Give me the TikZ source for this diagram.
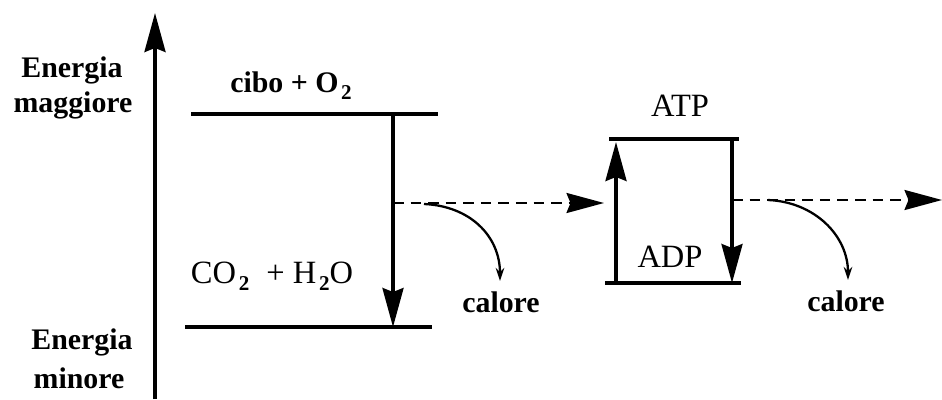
\documentclass[tikz,border=0pt]{standalone}
\usepackage{fontspec}
\setmainfont{Liberation Serif}
\usepackage{tikz}
\usetikzlibrary{arrows.meta}

\newcommand{\pedice}[1]{\kern1.5pt\raisebox{-0.5ex}{\fontsize{12}{12}\selectfont\bfseries #1}}

\begin{document}
\begin{tikzpicture}[x=0.02cm,y=-0.02cm,
  livello/.style={line width=2.2pt},
  freccia/.style={line width=1.9pt,-{Stealth[length=0.78cm,width=0.42cm,inset=0.08cm]}},
  tratteggio/.style={line width=1.4pt,dash pattern=on 6pt off 4pt,-{Stealth[length=0.75cm,width=0.4cm,inset=0.08cm]}},
  calore/.style={line width=1.3pt,-{Stealth[length=0.26cm,width=0.17cm]}},
  scritta/.style={font=\fontsize{17}{19}\selectfont\bfseries},
  sigla/.style={font=\fontsize{18.5}{20}\selectfont}]
\useasboundingbox (0,0) rectangle (942,399);
% asse dell'energia
\coordinate (asse0) at (155,399);
\coordinate (asse1) at (155,13);
\draw[freccia] (asse0) -- (asse1);
\node[scritta] (emagg1) at (72,70) {Energia};
\node[scritta] (emagg2) at (73,105) {maggiore};
\node[scritta] (emin1) at (82,342) {Energia};
\node[scritta] (emin2) at (79,378) {minore};
% respirazione
\coordinate (alto0) at (191,114);
\coordinate (alto1) at (438,114);
\coordinate (basso0) at (185,327);
\coordinate (basso1) at (432,327);
\draw[livello] (alto0) -- (alto1);
\draw[livello] (basso0) -- (basso1);
\node[scritta] (cibo) at (291,86) {cibo + O\pedice{2}};
\node[sigla] (prodotti) at (272,276) {CO\pedice{2}\; + H\pedice{2}O};
\coordinate (cad0) at (393,114);
\coordinate (cad1) at (393,327);
\draw[freccia] (cad0) -- (cad1);
\coordinate (flusso0) at (393,203);
\coordinate (flusso1) at (604,203);
\draw[tratteggio] (flusso0) -- (flusso1);
\coordinate (dis0) at (424,204);
\coordinate (dis1) at (500,281);
\draw[calore] (dis0) .. controls (470,206) and (500,236) .. (dis1);
\node[scritta] (cal1) at (501,302) {calore};
% ciclo ATP/ADP
\coordinate (atp0) at (609,139);
\coordinate (atp1) at (739,139);
\coordinate (adp0) at (605,283);
\coordinate (adp1) at (741,283);
\draw[livello] (atp0) -- (atp1);
\draw[livello] (adp0) -- (adp1);
\node[sigla] (atp) at (680,106) {ATP};
\node[sigla] (adp) at (670,257) {ADP};
\coordinate (su0) at (616,283);
\coordinate (su1) at (616,142);
\draw[freccia] (su0) -- (su1);
\coordinate (giu0) at (732,139);
\coordinate (giu1) at (732,283);
\draw[freccia] (giu0) -- (giu1);
\coordinate (uscita0) at (732,200);
\coordinate (uscita1) at (942,200);
\draw[tratteggio] (uscita0) -- (uscita1);
\coordinate (dis2) at (768,200);
\coordinate (dis3) at (848,280);
\draw[calore] (dis2) .. controls (815,202) and (848,236) .. (dis3);
\node[scritta] (cal2) at (846,301) {calore};
\end{tikzpicture}
\end{document}
